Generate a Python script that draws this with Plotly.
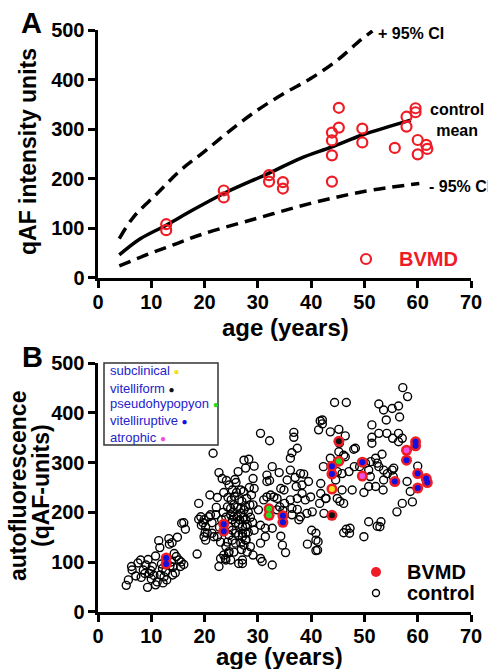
import plotly.graph_objects as go

# ---------------- Panel A data ----------------
mean_age = [4, 8, 12.8, 16.7, 23.6, 32.1, 38, 43.9, 49.6, 58.7]
mean_val = [46, 79, 106, 130, 170, 211, 241, 264, 288, 318]
upper_age = [4, 6.7, 11.1, 15.5, 19.9, 24.9, 29.9, 34.9, 39.9, 44.9, 49.3, 51.5]
upper_val = [79, 123, 170, 217, 254, 298, 338, 372, 402, 439, 480, 498]
lower_age = [4, 9.8, 14.8, 19.9, 29.9, 39.9, 49.9, 60.3]
lower_val = [24, 49, 69, 89, 120, 150, 174, 190]

# BVMD patients (shared by both panels)
bvmd_age = [12.8, 12.8, 23.6, 23.6, 32.1, 32.1, 34.7, 34.7, 43.9, 43.9, 43.9, 43.9,
            45.2, 45.2, 49.6, 49.6, 55.7, 57.9, 57.9, 59.6, 59.6, 60.0, 60.0, 61.6, 61.8]
bvmd_val = [108, 96, 176, 162, 207, 194, 193, 180, 293, 277, 247, 194,
            343, 303, 301, 273, 262, 325, 305, 342, 334, 278, 249, 268, 260]
bvmd_stage = ["vitelliruptive", "vitelliruptive", "vitelliruptive", "vitelliruptive",
              "pseudohypopyon", "pseudohypopyon", "vitelliruptive", "vitelliruptive",
              "vitelliruptive", "vitelliruptive", "subclinical", "vitelliform",
              "vitelliform", "pseudohypopyon", "vitelliruptive", "atrophic",
              "vitelliruptive", "atrophic", "vitelliruptive", "vitelliruptive",
              "vitelliruptive", "vitelliruptive", "vitelliruptive", "vitelliruptive",
              "vitelliruptive"]

stage_names = ["subclinical", "vitelliform", "pseudohypopyon", "vitelliruptive", "atrophic"]
stage_colors = ["#f2e21a", "#111111", "#22dd22", "#1010e0", "#f050e0"]

# ---------------- Panel B control data ----------------
control_age = [
    5.3, 5.7, 6.3, 6.4, 7.1, 8.0, 8.1, 8.5, 9.3, 9.4, 9.6, 9.9, 10.2, 10.8, 10.8, 11.4, 11.6,
    11.7, 12.1, 12.4, 12.7, 12.9, 13.3, 13.4, 13.9, 14.3, 14.7, 14.9, 15.2, 15.5, 15.7, 16.1,
    16.4, 16.1, 15.6, 7.5, 8.8, 9.0, 10.0, 10.5, 11.1, 11.9, 12.2, 13.5, 14.0, 13.8, 14.5, 14.1,
    18.6, 18.9, 18.9, 19.7, 19.9, 20.1, 20.2, 21.6, 19.3, 19.9, 21.1, 21.4, 20.2, 20.5, 21.4,
    21.75, 22.4, 22.7, 23.3, 24.1, 24.6, 25.2, 25.7, 26.3, 25.9, 27.4, 27.7, 26.8, 27.3,
    24.3, 24.9, 25.5, 26.1, 26.8, 24.9, 25.5, 26.1, 26.8, 27.4, 25.2, 25.8, 26.4, 27.1, 27.7,
    24.6, 25.2, 25.8, 26.4, 27.1, 27.7, 24.6, 25.2, 25.8, 26.8, 27.4, 24.0, 24.6, 23.6, 23.0,
    24.0, 22.7, 26.4, 27.1, 22.1, 20.8, 19.4, 22.4, 23.9, 24.9,
    23.5, 24.0, 23.2, 22.8, 24.4, 25.0, 25.6, 26.5, 27.0, 27.9, 26.0, 25.3, 26.6, 27.3, 28.0,
    27.8, 26.9, 25.5, 24.3, 23.0, 28.2, 28.5, 22.2, 21.0, 23.6, 24.5,
    30.5, 32.2, 36.75, 36.75, 37.4, 36.4, 36.1, 41.7, 42.1, 41.4, 28.3, 29.3, 32.7, 36.1,
    38.0, 38.6, 29.1, 31.7, 31.7, 32.2, 29.3, 34.9, 34.3, 37.2, 38.3, 38.3, 38.9, 39.9, 37.4,
    36.1, 31.7, 32.4, 33.0, 33.6, 31.1, 29.1, 30.1, 27.7, 36.4, 37.4, 35.0, 38.0, 37.7, 36.4,
    39.2, 40.2, 30.5, 31.4, 32.7, 29.3, 27.1, 27.7, 28.6, 30.5, 31.4, 34.6, 35.2, 34.3, 39.3,
    40.9, 40.9, 40.9, 29.1, 30.5, 30.8, 32.7, 27.1, 27.7, 27.7, 28.4, 28.8, 28.2, 28.6, 29.0,
    28.0, 34.1, 34.7, 33.6, 35.5, 34.0, 37.0, 39.5,
    57.2, 58.1, 52.7, 53.6, 55.2, 56.4, 56.6, 54.1, 51.4, 52.7, 54.2, 55.3, 57.1, 51.4, 51.4,
    53.3, 52.1, 52.4, 51.2, 50.2, 48.3, 51.1, 53.6, 55.2, 55.4, 58.0, 60.0, 58.6, 59.0, 57.1,
    56.1, 52.1, 50.8, 49.9, 53.5, 50.8, 53.1, 52.9, 49.9, 46.6, 47.2, 44.4, 46.6, 42.1, 43.6,
    45.2, 46.4, 45.3, 45.2, 46.1, 43.6, 42.3, 44.9, 45.8, 47.1, 48.1, 49.1, 41.8, 41.8, 45.8,
    44.9, 45.4, 46.1, 41.6, 42.8, 47.7, 42.4, 40.1, 41.3, 41.2, 46.1,
    48.0, 46.4, 44.6, 42.7, 50.8, 52.7, 53.6, 54.3, 47.3, 52.4, 56.4, 56.4, 55.5,
]
control_val = [
    53, 64, 91, 84, 72, 104, 69, 84, 49, 105, 77, 83, 91, 112, 54, 143, 129,
    74, 87, 70, 81, 64, 147, 136, 139, 117, 111, 150, 104, 91, 178, 179,
    166, 95, 100, 98, 77, 94, 66, 73, 60, 96, 58, 92, 74, 100, 78, 90,
    116, 218, 186, 179, 151, 159, 144, 319, 191, 185, 195, 179, 171, 158, 158,
    151, 230, 280, 268, 264, 255, 245, 266, 282, 260, 305, 289, 245, 242,
    211, 208, 215, 210, 208, 195, 191, 191, 198, 205, 185, 179, 176, 171, 185,
    171, 164, 158, 154, 151, 158, 154, 144, 138, 138, 134, 131, 121, 114, 107,
    104, 91, 97, 104, 195, 191, 174, 151, 107, 104,
    200, 190, 185, 170, 230, 225, 232, 225, 222, 228, 240, 200, 185, 190, 175,
    145, 125, 120, 140, 140, 200, 215, 210, 235, 240, 118,
    359, 344, 361, 351, 329, 320, 309, 384, 378, 366, 307, 293, 292, 285,
    278, 277, 268, 275, 262, 264, 248, 245, 248, 252, 255, 238, 225, 231, 228,
    225, 231, 235, 231, 228, 225, 215, 205, 211, 208, 206, 218, 191, 185, 195,
    198, 201, 174, 168, 168, 164, 158, 144, 131, 138, 151, 134, 119, 152, 136,
    158, 144, 123, 114, 107, 101, 94, 97, 185, 171, 250, 235, 160, 190, 180,
    120, 211, 204, 205, 265, 280, 270, 262,
    451, 433, 418, 406, 409, 414, 392, 386, 376, 359, 359, 349, 349, 351, 339,
    317, 309, 299, 302, 299, 329, 272, 265, 285, 272, 262, 293, 242, 221, 218,
    201, 252, 252, 240, 245, 181, 181, 171, 151, 166, 158, 421, 421, 386, 362,
    367, 354, 339, 322, 315, 309, 292, 282, 278, 282, 292, 292, 258, 238, 245,
    228, 222, 218, 218, 228, 245, 198, 164, 141, 124, 159,
    327, 312, 265, 228, 285, 292, 285, 278, 168, 172, 359, 342, 289,
]

# ---------------- tick labels ----------------
x_ticks = [0, 10, 20, 30, 40, 50, 60, 70]
y_ticks = [0, 100, 200, 300, 400, 500]

RED = "#ee1c25"
FONT = "Liberation Sans, Arial, sans-serif"
W, H = 488, 669


def px(x):
    """page-pixel x -> paper fraction"""
    return x / W


def py(y):
    """page-pixel y (from top) -> paper fraction"""
    return (H - y) / H


stage_color_map = dict(zip(stage_names, stage_colors))
bvmd_inner = [stage_color_map[s] for s in bvmd_stage]

fig = go.Figure()

# Panel A
fig.add_trace(go.Scatter(x=upper_age, y=upper_val, mode="lines", line_shape="spline",
                         line=dict(color="black", width=3.5, dash="12px,7px"),
                         xaxis="x", yaxis="y", showlegend=False, cliponaxis=False))
fig.add_trace(go.Scatter(x=lower_age, y=lower_val, mode="lines", line_shape="spline",
                         line=dict(color="black", width=3.5, dash="12px,7px"),
                         xaxis="x", yaxis="y", showlegend=False))
fig.add_trace(go.Scatter(x=mean_age, y=mean_val, mode="lines", line_shape="spline",
                         line=dict(color="black", width=3.5),
                         xaxis="x", yaxis="y", showlegend=False))
fig.add_trace(go.Scatter(x=bvmd_age, y=bvmd_val, mode="markers",
                         marker=dict(symbol="circle-open", size=10, color=RED,
                                     line=dict(width=2.2, color=RED)),
                         xaxis="x", yaxis="y", showlegend=False))

# Panel B
fig.add_trace(go.Scatter(x=control_age, y=control_val, mode="markers",
                         marker=dict(symbol="circle-open", size=8, color="black",
                                     line=dict(width=1.4, color="black")),
                         xaxis="x2", yaxis="y2", showlegend=False))
fig.add_trace(go.Scatter(x=bvmd_age, y=bvmd_val, mode="markers",
                         marker=dict(symbol="circle", size=11, color=RED,
                                     line=dict(width=0)),
                         xaxis="x2", yaxis="y2", showlegend=False))
fig.add_trace(go.Scatter(x=bvmd_age, y=bvmd_val, mode="markers",
                         marker=dict(symbol="circle", size=6, color=bvmd_inner,
                                     line=dict(width=0)),
                         xaxis="x2", yaxis="y2", showlegend=False))

axis_common = dict(
    showgrid=False, zeroline=False, showline=True, linecolor="black", linewidth=3.5,
    ticks="outside", ticklen=7, tickwidth=3, tickcolor="black", automargin=False,
    tickfont=dict(family=FONT, size=20, color="black", weight="bold"),
)

xdom = [px(98), px(471)]
fig.update_layout(
    template="none",
    width=W, height=H, margin=dict(l=0, r=0, t=0, b=0, pad=0), autosize=False,
    paper_bgcolor="white", plot_bgcolor="white",
    xaxis=dict(domain=xdom, range=[0, 70], tickvals=x_ticks, anchor="y",
               ticklabelstandoff=-3, **axis_common),
    yaxis=dict(domain=[py(277.7), py(30)], range=[0, 500], tickvals=y_ticks, anchor="x",
               ticklabelstandoff=-1, **axis_common),
    xaxis2=dict(domain=xdom, range=[0, 70], tickvals=x_ticks, anchor="y2",
                ticklabelstandoff=-3, **axis_common),
    yaxis2=dict(domain=[py(611.7), py(363.3)], range=[0, 500], tickvals=y_ticks,
                anchor="x2", ticklabelstandoff=-1, **axis_common),
)

ann = []


def add_text(text, x, y, size, color="black", bold=True, xanchor="center",
             angle=0, align="center"):
    ann.append(dict(text=text, x=px(x), y=py(y), xref="paper", yref="paper",
                    xanchor=xanchor, yanchor="middle", showarrow=False,
                    textangle=angle, align=align,
                    font=dict(family=FONT, size=size, color=color,
                              weight="bold" if bold else "normal")))


# panel letters
add_text("A", 31, 23, 29)
add_text("B", 32, 357, 29)
# axis titles
add_text("qAF intensity units", 28, 152, 23, angle=-90)
add_text("age (years)", 285, 327, 24)
add_text("autofluorescence", 18, 486, 23, angle=-90)
add_text("(qAF-units)", 41, 486, 23, angle=-90)
add_text("age (years)", 279, 656, 24)
# panel A curve labels
add_text("+ 95% CI", 376, 33, 16, xanchor="left")
add_text("control<br>mean", 457, 120, 16)
add_text("- 95% CI", 427, 186, 16, xanchor="left")
add_text("BVMD", 397, 259, 20, color=RED, xanchor="left")
# panel B legend labels
add_text("BVMD", 405, 572, 20, xanchor="left")
add_text("control", 405, 593, 20, xanchor="left")

# stage legend box texts
stage_rows_y = [370.7, 388.3, 403.3, 420.7, 437.3]
for name, col, yy in zip(stage_names, stage_colors, stage_rows_y):
    add_text(name + " <span style='color:%s;font-size:10px'>●</span>" % col,
             108, yy, 13, color="#2323cc", bold=False, xanchor="left")

fig.update_layout(annotations=ann)

shapes = [
    dict(type="rect", xref="paper", yref="paper", x0=px(104), x1=px(218),
         y0=py(445), y1=py(363), line=dict(color="#333333", width=1.5)),
    # panel A legend glyph
    dict(type="circle", xref="paper", yref="paper", x0=px(361), x1=px(371),
         y0=py(264), y1=py(254), line=dict(color=RED, width=2.2)),
    # panel B legend glyphs
    dict(type="circle", xref="paper", yref="paper", x0=px(371), x1=px(381),
         y0=py(577), y1=py(567), fillcolor=RED, line=dict(color=RED, width=0)),
    dict(type="circle", xref="paper", yref="paper", x0=px(372.5), x1=px(379.5),
         y0=py(596.5), y1=py(589.5), line=dict(color="black", width=1.4)),
]
fig.update_layout(shapes=shapes)

# remove the browser's default 8px body margin so the figure fills the window
fig.write_html("out.html",
               config={"displayModeBar": False, "staticPlot": True},
               post_script="document.body.style.margin='0px';"
                           "document.body.style.overflow='hidden';")
